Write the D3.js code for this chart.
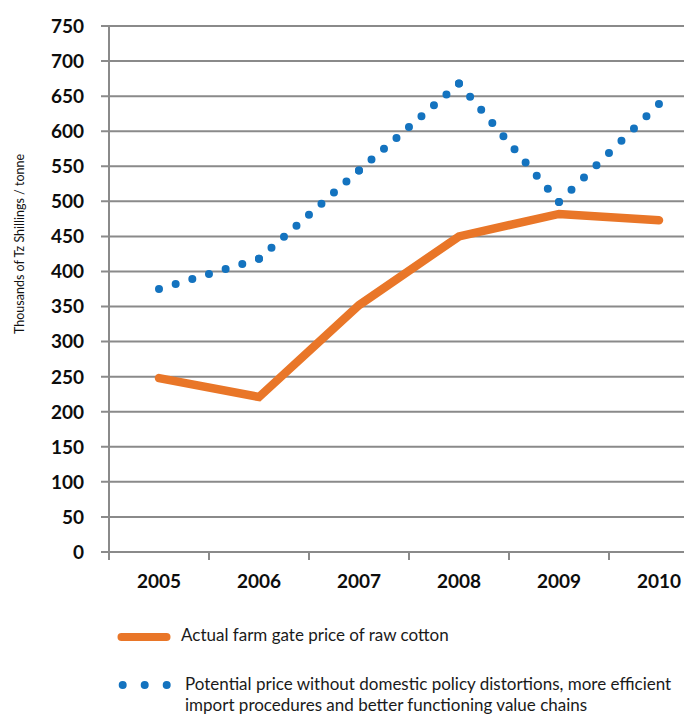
<!DOCTYPE html>
<html>
<head>
<meta charset="utf-8">
<script src="https://cdn.jsdelivr.net/npm/d3@7/dist/d3.min.js"></script>
<style>
  body { margin: 0; background: #fff; }
  svg { display: block; font-family: Lato, "Open Sans", sans-serif; }
</style>
</head>
<body>
<script>
// data
var years = ["2005", "2006", "2007", "2008", "2009", "2010"];
var actualPrice = [248, 221, 352, 450, 482, 473];
var potentialPrice = [375, 418, 544, 668, 499, 639];
var yTickValues = [0, 50, 100, 150, 200, 250, 300, 350, 400, 450, 500, 550, 600, 650, 700, 750];
var yTitle = "Thousands of Tz Shillings / tonne";
var legendActual = "Actual farm gate price of raw cotton";
var legendPotential = ["Potential price without domestic policy distortions, more efficient",
  "import procedures and better functioning value chains"];

var width = 684, height = 715;
var orange = "#e97628", blue = "#1473bf", grid = "#8a8a8a";

var svg = d3.select("body")
  .append("svg")
  .attr("width", width)
  .attr("height", height);

var x = d3.scaleBand().domain(years).range([109, 709]);
var y = d3.scaleLinear().domain([0, 750]).range([552, 26]);
var cx = d => x(d) + x.bandwidth() / 2;

// gridlines
svg.selectAll(".grid")
  .data(yTickValues)
  .enter()
  .append("line")
  .attr("x1", 101)
  .attr("x2", 709)
  .attr("y1", d => y(d))
  .attr("y2", d => y(d))
  .style("stroke", grid)
  .style("stroke-width", 2);

// y axis line
svg.append("line")
  .attr("x1", 109).attr("x2", 109)
  .attr("y1", y(750)).attr("y2", y(0) + 8)
  .style("stroke", grid)
  .style("stroke-width", 2);

// x ticks at category boundaries
svg.selectAll(".xtick")
  .data(years)
  .enter()
  .append("line")
  .attr("x1", d => x(d) + x.bandwidth())
  .attr("x2", d => x(d) + x.bandwidth())
  .attr("y1", y(0))
  .attr("y2", y(0) + 8)
  .style("stroke", grid)
  .style("stroke-width", 2);

// y tick labels
svg.selectAll(".ylab")
  .data(yTickValues)
  .enter()
  .append("text")
  .attr("x", 84)
  .attr("y", d => y(d))
  .attr("dy", "0.36em")
  .attr("text-anchor", "end")
  .style("font-size", "19px")
  .style("font-weight", "bold")
  .style("fill", "#0d0d0d")
  .text(d => d);

// x labels
svg.selectAll(".xlab")
  .data(years)
  .enter()
  .append("text")
  .attr("x", d => cx(d))
  .attr("y", 588)
  .attr("text-anchor", "middle")
  .style("font-size", "19px")
  .style("font-weight", "bold")
  .style("fill", "#0d0d0d")
  .text(d => d);

// y title
svg.append("text")
  .attr("transform", "translate(24,244) rotate(-90)")
  .attr("text-anchor", "middle")
  .style("font-size", "12.5px")
  .style("fill", "#111")
  .text(yTitle);

// potential price: dotted, one dotted run per segment so dots sit on the vertices
var pts = years.map((d, i) => [cx(d), y(potentialPrice[i])]);
d3.pairs(pts).forEach(function (p) {
  var L = Math.hypot(p[1][0] - p[0][0], p[1][1] - p[0][1]);
  var n = Math.max(1, Math.round(L / 17));
  svg.append("path")
    .attr("d", d3.line()(p))
    .style("fill", "none")
    .style("stroke", blue)
    .style("stroke-width", 8)
    .style("stroke-linecap", "round")
    .style("stroke-dasharray", "0 " + (L / n - 0.01));
});

// actual price
var line = d3.line()
  .x((d, i) => cx(years[i]))
  .y(d => y(d));

svg.append("path")
  .datum(actualPrice)
  .attr("d", line)
  .style("fill", "none")
  .style("stroke", orange)
  .style("stroke-width", 8.5)
  .style("stroke-linecap", "round")
  .style("stroke-linejoin", "miter");

// legend
svg.append("line")
  .attr("x1", 121.5).attr("x2", 166.5)
  .attr("y1", 637).attr("y2", 637)
  .style("stroke", orange)
  .style("stroke-width", 8)
  .style("stroke-linecap", "round");

svg.append("text")
  .attr("x", 181)
  .attr("y", 641)
  .style("font-size", "17px")
  .style("fill", "#1a1a1a")
  .text(legendActual);

svg.append("line")
  .attr("x1", 122.7).attr("x2", 166.8)
  .attr("y1", 685).attr("y2", 685)
  .style("stroke", blue)
  .style("stroke-width", 8)
  .style("stroke-linecap", "round")
  .style("stroke-dasharray", "0 22");

svg.append("text")
  .attr("x", 185)
  .attr("y", 690)
  .style("font-size", "17px")
  .style("fill", "#1a1a1a")
  .selectAll("tspan")
  .data(legendPotential)
  .enter()
  .append("tspan")
  .attr("x", 185)
  .attr("dy", (d, i) => i === 0 ? 0 : 21)
  .text(d => d);
</script>
</body>
</html>
